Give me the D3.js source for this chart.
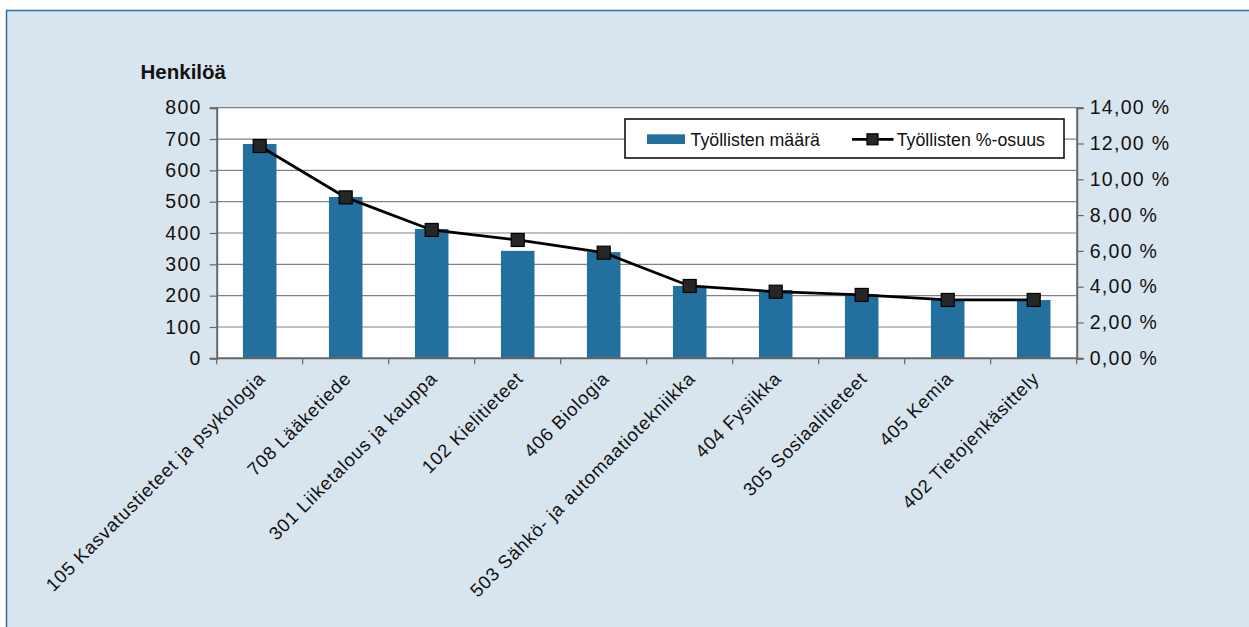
<!DOCTYPE html>
<html>
<head>
<meta charset="utf-8">
<script src="https://cdn.jsdelivr.net/npm/d3@7"></script>
<style>
  html, body { margin: 0; padding: 0; background: #ffffff; }
  svg { display: block; }
  text { font-family: "Liberation Sans", Arial, Helvetica, sans-serif; fill: #111; }
</style>
</head>
<body>
<svg id="chart" width="1249" height="627"></svg>
<script>
// Koulutusalat, työllisten määrä (henkilöä) ja työllisten %-osuus
const categories = [
  "105 Kasvatustieteet ja psykologia",
  "708 Lääketiede",
  "301 Liiketalous ja kauppa",
  "102 Kielitieteet",
  "406 Biologia",
  "503 Sähkö- ja automaatiotekniikka",
  "404 Fysiikka",
  "305 Sosiaalitieteet",
  "405 Kemia",
  "402 Tietojenkäsittely"
];
const employedCount = [684, 515, 413, 343, 339, 231, 218, 205, 189, 186];
const employedShare = [11.86, 8.99, 7.17, 6.61, 5.90, 4.04, 3.72, 3.54, 3.26, 3.26];
const leftTicks = [0, 100, 200, 300, 400, 500, 600, 700, 800];
const rightTicks = [0, 2, 4, 6, 8, 10, 12, 14];
const seriesNames = ["Työllisten määrä", "Työllisten %-osuus"];
const yTitle = "Henkilöä";

const svg = d3.select("#chart");
const W = 1249, H = 627;

// outer panel
svg.append("rect")
  .attr("x", 6.5).attr("y", 10.5)
  .attr("width", W + 20).attr("height", H + 20)
  .attr("fill", "#d9e5ee")
  .attr("stroke", "#2b6ea6").attr("stroke-width", 1.5);

const plot = { left: 216.7, right: 1076.7, top: 107.7, bottom: 358.3 };

const x = d3.scaleBand()
  .domain(categories)
  .range([plot.left, plot.right])
  .paddingInner(0.61)
  .paddingOuter(0.305);

const yL = d3.scaleLinear().domain([0, 800]).range([plot.bottom, plot.top]);
const yR = d3.scaleLinear().domain([0, 14]).range([plot.bottom, plot.top]);

// plot background
svg.append("rect")
  .attr("x", plot.left).attr("y", plot.top)
  .attr("width", plot.right - plot.left).attr("height", plot.bottom - plot.top)
  .attr("fill", "#ffffff");

// horizontal grid lines
svg.append("g")
  .selectAll("line")
  .data(leftTicks.filter(d => d > 0))
  .join("line")
  .attr("x1", plot.left).attr("x2", plot.right)
  .attr("y1", d => yL(d)).attr("y2", d => yL(d))
  .attr("stroke", "#7d8387").attr("stroke-width", 1.2);

// bars
svg.append("g")
  .selectAll("rect")
  .data(employedCount)
  .join("rect")
  .attr("x", (d, i) => x(categories[i]))
  .attr("width", x.bandwidth())
  .attr("y", d => yL(d))
  .attr("height", d => yL(0) - yL(d))
  .attr("fill", "#23709f");

// left axis
const axisL = d3.axisLeft(yL).tickValues(leftTicks).tickSize(7).tickPadding(8).tickFormat(d3.format("d"));
const gL = svg.append("g").attr("transform", `translate(${plot.left},0)`).call(axisL);
gL.select(".domain").attr("stroke", "#666").attr("stroke-width", 2);
gL.selectAll(".tick line").attr("stroke", "#666").attr("stroke-width", 1.2);
gL.selectAll(".tick text")
  .style("font-size", "19.5px").style("letter-spacing", "1.3px")
  .attr("fill", "#111");

// right axis
const fmtPct = d => d3.format(".2f")(d).replace(".", ",") + " %";
const axisR = d3.axisRight(yR).tickValues(rightTicks).tickSize(7).tickPadding(6).tickFormat(fmtPct);
const gR = svg.append("g").attr("transform", `translate(${plot.right},0)`).call(axisR);
gR.select(".domain").attr("stroke", "#666").attr("stroke-width", 2);
gR.selectAll(".tick line").attr("stroke", "#666").attr("stroke-width", 1.2);
gR.selectAll(".tick text")
  .style("font-size", "19.5px").style("letter-spacing", "1.3px")
  .attr("fill", "#111");

// bottom axis line with category boundary ticks
const gB = svg.append("g");
gB.append("line")
  .attr("x1", plot.left).attr("x2", plot.right)
  .attr("y1", plot.bottom).attr("y2", plot.bottom)
  .attr("stroke", "#666").attr("stroke-width", 2);
const boundaries = d3.range(categories.length + 1).map(i => plot.left + i * x.step());
gB.selectAll("line.bt")
  .data(boundaries)
  .join("line")
  .attr("class", "bt")
  .attr("x1", d => d).attr("x2", d => d)
  .attr("y1", plot.bottom).attr("y2", plot.bottom + 6)
  .attr("stroke", "#666").attr("stroke-width", 1.2);

// rotated category labels
gB.selectAll("text")
  .data(categories)
  .join("text")
  .attr("transform", d => `translate(${x(d) + x.bandwidth() / 2 + 2},375) rotate(-45)`)
  .attr("text-anchor", "end")
  .attr("dy", "0.35em")
  .style("font-size", "18.5px")
  .style("letter-spacing", "0.8px")
  .text(d => d);

// share line with square markers
const line = d3.line()
  .x((d, i) => x(categories[i]) + x.bandwidth() / 2)
  .y(d => yR(d));
svg.append("path")
  .datum(employedShare)
  .attr("d", line)
  .attr("fill", "none")
  .attr("stroke", "#000")
  .attr("stroke-width", 2.8);

const ms = 13;
svg.append("g")
  .selectAll("rect")
  .data(employedShare)
  .join("rect")
  .attr("x", (d, i) => x(categories[i]) + x.bandwidth() / 2 - ms / 2)
  .attr("y", d => yR(d) - ms / 2)
  .attr("width", ms).attr("height", ms)
  .attr("fill", "#262626")
  .attr("stroke", "#000").attr("stroke-width", 1.2);

// y axis title
svg.append("text")
  .attr("x", 140.5).attr("y", 78.5)
  .style("font-size", "20.5px").style("font-weight", "bold")
  .text(yTitle);

// legend
const lg = svg.append("g");
lg.append("rect")
  .attr("x", 625).attr("y", 119)
  .attr("width", 439).attr("height", 39)
  .attr("fill", "#ffffff")
  .attr("stroke", "#111").attr("stroke-width", 1.6);
lg.append("rect")
  .attr("x", 647).attr("y", 134.3).attr("width", 38).attr("height", 9.7)
  .attr("fill", "#23709f");
lg.append("text")
  .attr("x", 690.5).attr("y", 145.6)
  .style("font-size", "17.8px")
  .text(seriesNames[0]);
lg.append("line")
  .attr("x1", 852).attr("x2", 893.5).attr("y1", 139.3).attr("y2", 139.3)
  .attr("stroke", "#000").attr("stroke-width", 2.8);
lg.append("rect")
  .attr("x", 872.5 - 5.5).attr("y", 139.3 - 5.5).attr("width", 11).attr("height", 11)
  .attr("fill", "#262626").attr("stroke", "#000").attr("stroke-width", 1.2);
lg.append("text")
  .attr("x", 896.7).attr("y", 145.6)
  .style("font-size", "17.8px")
  .text(seriesNames[1]);
</script>
</body>
</html>
